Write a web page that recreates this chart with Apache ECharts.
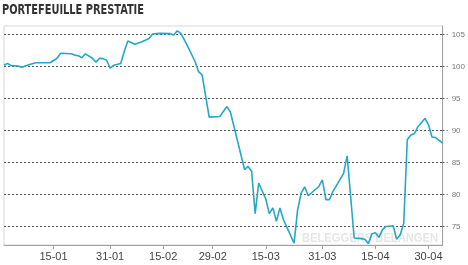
<!DOCTYPE html>
<html>
<head>
<meta charset="utf-8">
<script src="https://cdn.jsdelivr.net/npm/echarts@6/dist/echarts.min.js"></script>
<style>html,body{margin:0;padding:0;background:#fff}#c{width:468px;height:265px}</style>
</head>
<body>
<div id="c"></div>
<script>
var titleText = 'PORTEFEUILLE PRESTATIE';
var watermarkText = 'BELEGGERS BELANGEN';
var dates = ['2016-01-01','2016-01-02','2016-01-03','2016-01-05','2016-01-06','2016-01-08','2016-01-10','2016-01-14','2016-01-16','2016-01-17',
'2016-01-20','2016-01-21','2016-01-22','2016-01-23','2016-01-24','2016-01-26','2016-01-27','2016-01-28','2016-01-29','2016-01-30',
'2016-01-31','2016-02-01','2016-02-03','2016-02-04','2016-02-05','2016-02-07','2016-02-09','2016-02-11','2016-02-12','2016-02-14',
'2016-02-17','2016-02-18','2016-02-19','2016-02-20','2016-02-22','2016-02-24','2016-02-25','2016-02-26','2016-02-28','2016-03-02',
'2016-03-04','2016-03-05','2016-03-09','2016-03-10','2016-03-11','2016-03-12','2016-03-13','2016-03-15','2016-03-16','2016-03-17',
'2016-03-18','2016-03-19','2016-03-20','2016-03-23','2016-03-24','2016-03-25','2016-03-26','2016-03-27','2016-03-30','2016-03-31',
'2016-04-01','2016-04-02','2016-04-03','2016-04-06','2016-04-07','2016-04-09','2016-04-11','2016-04-12','2016-04-13','2016-04-14',
'2016-04-15','2016-04-16','2016-04-17','2016-04-18','2016-04-20','2016-04-21','2016-04-22','2016-04-23','2016-04-24','2016-04-25',
'2016-04-26','2016-04-27','2016-04-29','2016-04-30','2016-05-01','2016-05-02','2016-05-04'];
var values = [100.2,100.5,100.15,100.1,99.9,100.3,100.6,100.6,101.3,102.1,
102.0,101.8,101.7,101.4,102.0,101.3,100.7,101.3,101.25,101.0,
99.75,100.2,100.5,102.35,104.0,103.5,103.9,104.4,105.1,105.2,
105.15,104.95,105.6,105.2,103.1,100.8,99.2,98.7,92.1,92.2,
93.75,92.9,83.9,84.4,83.6,77.0,81.8,79.3,77.0,77.9,
75.8,77.9,76.05,72.4,77.6,80.2,81.2,79.8,81.25,82.3,
79.2,79.2,80.5,83.3,86.05,73.2,73.1,73.0,72.3,73.85,
74.0,73.3,74.5,75.0,75.1,73.0,73.7,75.5,88.55,89.3,
89.5,90.6,91.9,90.9,89.0,88.9,88.05];
var xTickDates = ['2016-01-15','2016-01-31','2016-02-15','2016-02-29','2016-03-15','2016-03-31','2016-04-15','2016-04-30'];
var yTicks = [75, 80, 85, 90, 95, 100, 105];
var xRange = ['2016-01-01', '2016-05-04'];
var yRange = [72.1, 106.35];

function ts(s){ var p = s.split('-'); return new Date(+p[0], +p[1]-1, +p[2]).getTime(); }
var data = dates.map(function(d, i){ return [ts(d), values[i]]; });
var xTicks = xTickDates.map(ts);

var chart = echarts.init(document.getElementById('c'), null, {renderer: 'canvas'});
chart.setOption({
  animation: false,
  backgroundColor: '#fff',
  grid: {left: 4, right: 22, top: 26, bottom: 20, show: true, borderColor: '#d6d6d6', borderWidth: 1},
  graphic: [
    {type: 'text', left: 2, top: 3, scaleX: 0.78, style: {text: titleText, font: 'bold 14px "Liberation Sans Narrow", "DejaVu Sans Condensed", Arial', fill: '#333'}},
    {type: 'text', left: 302, top: 232, z: 0, scaleX: 0.86, style: {text: watermarkText, font: 'bold 13px "Liberation Sans", Arial', fill: '#e6e6e6'}}
  ],
  xAxis: {
    type: 'time', min: ts(xRange[0]), max: ts(xRange[1]),
    axisLine: {show: true, lineStyle: {color: '#a0a0a0', width: 1}},
    axisTick: {show: true, customValues: xTicks, length: 4, lineStyle: {color: '#a0a0a0'}},
    axisLabel: {customValues: xTicks, formatter: '{dd}-{MM}', color: '#444', fontSize: 11, fontFamily: 'Liberation Sans, Arial', margin: 6},
    splitLine: {show: false}
  },
  yAxis: {
    type: 'value', position: 'right', min: yRange[0], max: yRange[1],
    axisLine: {show: true, lineStyle: {color: '#a0a0a0', width: 1}},
    axisTick: {show: true, customValues: yTicks, length: 5, lineStyle: {color: '#555', type: [2, 2]}},
    axisLabel: {customValues: yTicks, color: '#777', fontSize: 8, fontFamily: 'Liberation Sans, Arial', margin: 9},
    splitLine: {show: true, lineStyle: {color: '#555', type: [2, 2], width: 1}}
  },
  series: [{
    type: 'line', data: data, showSymbol: false, symbol: 'none', z: 3,
    lineStyle: {color: '#27a7c6', width: 1.6}
  }]
});
</script>
</body>
</html>
